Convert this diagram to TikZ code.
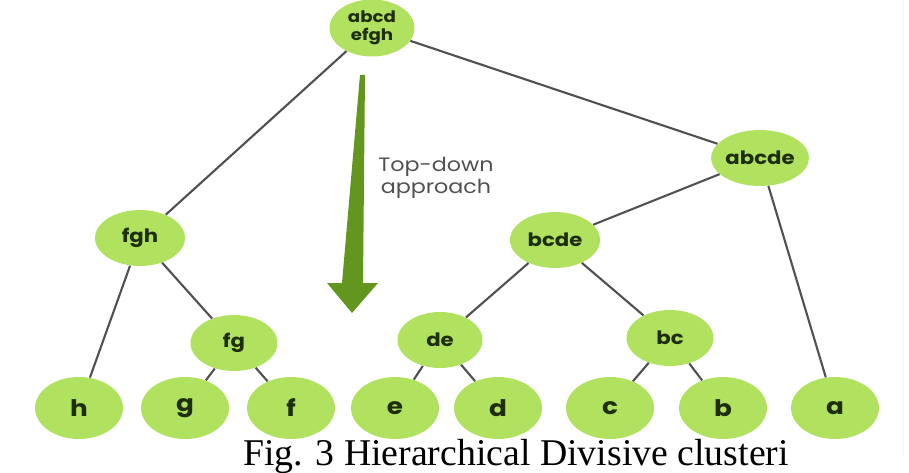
\documentclass[tikz,border=0pt]{standalone}
\usepackage{fontspec}
\setmainfont{Liberation Serif}
\newfontfamily\nodefont[FakeStretch=1.15]{Poppins}
\usetikzlibrary{shapes.geometric}
\definecolor{leafgreen}{RGB}{176,226,96}
\definecolor{arrowgreen}{RGB}{98,150,30}
\definecolor{edgegray}{RGB}{80,80,80}
\definecolor{textgray}{RGB}{80,80,80}
\definecolor{labelgreen}{RGB}{30,45,10}
\begin{document}
\begin{tikzpicture}[x=0.02cm, y=-0.02cm,
    cluster/.style={ellipse, fill=leafgreen, minimum width=1.8cm, minimum height=1.12cm,
      inner sep=0pt, text=labelgreen, font=\nodefont\bfseries\fontsize{10.5}{11}\selectfont},
    leaf/.style={cluster, minimum width=1.76cm, minimum height=1.24cm,
      font=\nodefont\bfseries\fontsize{13}{14}\selectfont},
    link/.style={edgegray, line width=1.2pt}]
  \useasboundingbox (0,0) rectangle (909,473);
  \draw[gray!8] (903,0) -- (903,455);

  % clusters
  \node[cluster, minimum width=1.7cm, minimum height=1.14cm, align=center,
    font=\nodefont\bfseries\fontsize{9}{10}\selectfont] (abcdefgh) at (372,28) {abcd\\efgh};
  \node[cluster] (abcde) at (760,158) {abcde};
  \node[cluster] (fgh)   at (140,238) {fgh};
  \node[cluster] (bcde)  at (555,240) {bcde};
  \node[cluster, minimum width=1.74cm] (fg) at (234,343) {fg};
  \node[cluster, minimum width=1.7cm]  (de) at (440,340) {de};
  \node[cluster, minimum width=1.74cm] (bc) at (670,338) {bc};

  % leaves
  \node[leaf] (h) at ( 79,408) {h};
  \node[leaf] (g) at (185,408) {g};
  \node[leaf] (f) at (291,408) {f};
  \node[leaf] (e) at (395,408) {e};
  \node[leaf] (d) at (498,408) {d};
  \node[leaf] (c) at (610,408) {c};
  \node[leaf] (b) at (723,408) {b};
  \node[leaf] (a) at (835,408) {a};

  \draw[link] (abcdefgh) -- (fgh);
  \draw[link] (abcdefgh) -- (abcde);
  \draw[link] (abcde) -- (bcde);
  \draw[link] (abcde) -- (a);
  \draw[link] (fgh) -- (h);
  \draw[link] (fgh) -- (fg);
  \draw[link] (fg) -- (g);
  \draw[link] (fg) -- (f);
  \draw[link] (bcde) -- (de);
  \draw[link] (bcde) -- (bc);
  \draw[link] (de) -- (e);
  \draw[link] (de) -- (d);
  \draw[link] (bc) -- (c);
  \draw[link] (bc) -- (b);

  % top-down arrow
  \fill[arrowgreen] (360,75) -- (365,75) -- (363,283) -- (378,283) -- (352,313)
    -- (327,283) -- (342,283) -- cycle;
  \node[anchor=north west, align=center, text=textgray, inner sep=0pt,
    font=\nodefont\fontsize{11}{12.5}\selectfont] (approach) at (378,157) {Top-down\\approach};

  \node[anchor=base west, inner sep=0pt, font=\fontsize{21.5}{24}\selectfont]
    (caption) at (243,465) {Fig. 3 Hierarchical Divisive clusteri};
\end{tikzpicture}
\end{document}
